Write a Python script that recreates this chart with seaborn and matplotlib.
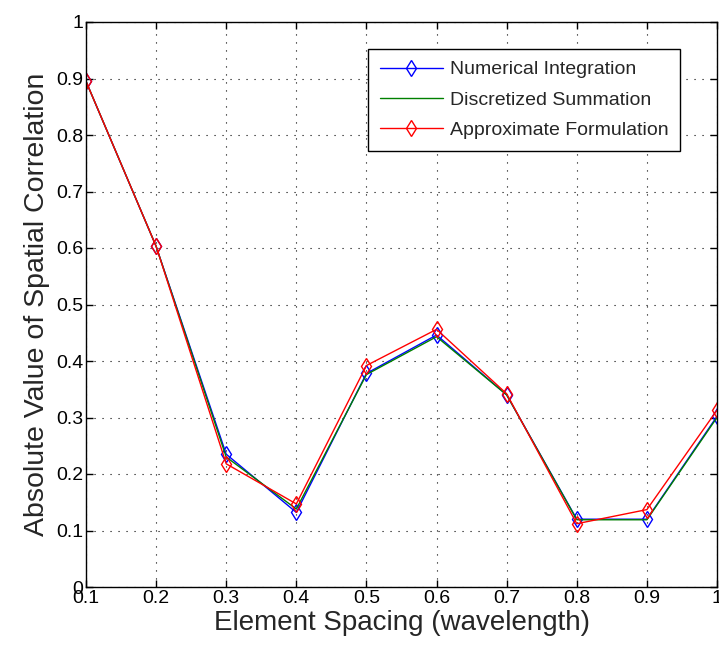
import numpy as np
import pandas as pd
import matplotlib
matplotlib.use("Agg")
import matplotlib.pyplot as plt
import seaborn as sns

# Element spacing in wavelengths
spacing = [0.1, 0.2, 0.3, 0.4, 0.5, 0.6, 0.7, 0.8, 0.9, 1.0]

# Absolute value of spatial correlation for each method
numerical_integration = [0.895, 0.603, 0.235, 0.132, 0.378, 0.446, 0.340, 0.120, 0.120, 0.302]
discretized_summation = [0.895, 0.603, 0.230, 0.138, 0.376, 0.443, 0.340, 0.119, 0.119, 0.300]
approximate_formulation = [0.895, 0.603, 0.218, 0.147, 0.392, 0.456, 0.342, 0.112, 0.137, 0.313]

x_tick_values = [0.1, 0.2, 0.3, 0.4, 0.5, 0.6, 0.7, 0.8, 0.9, 1.0]
x_tick_labels = ["0.1", "0.2", "0.3", "0.4", "0.5", "0.6", "0.7", "0.8", "0.9", "1"]
y_tick_values = [0, 0.1, 0.2, 0.3, 0.4, 0.5, 0.6, 0.7, 0.8, 0.9, 1.0]
y_tick_labels = ["0", "0.1", "0.2", "0.3", "0.4", "0.5", "0.6", "0.7", "0.8", "0.9", "1"]

sns.set_style("white")
plt.rcParams["font.family"] = ["Liberation Sans", "DejaVu Sans"]

fig = plt.figure(figsize=(7.19, 6.57), dpi=100)
ax = fig.add_axes([86 / 719, 1 - 587 / 657, (717 - 86) / 719, (587 - 22) / 657])

series = [
    ("Numerical Integration", numerical_integration, "#0000ff", "d"),
    ("Discretized Summation", discretized_summation, "#008000", None),
    ("Approximate Formulation", approximate_formulation, "#ff0000", "d"),
]
for name, values, color, marker in series:
    df = pd.DataFrame({"spacing": spacing, "corr": values})
    sns.lineplot(
        data=df, x="spacing", y="corr", ax=ax, color=color, linewidth=1.0,
        marker=marker if marker else "", markersize=8, markerfacecolor="none",
        markeredgecolor=color, markeredgewidth=1.0, label=name,
    )

ax.set_xlim(0.1, 1.0)
ax.set_ylim(0, 1)
ax.set_xticks(x_tick_values)
ax.set_yticks(y_tick_values)
tick_font = dict(family=["Liberation Sans Narrow", "Liberation Sans"], size=14)
ax.set_xticklabels(x_tick_labels, **tick_font)
ax.set_yticklabels(y_tick_labels, **tick_font)

ax.grid(True, color="black", linestyle=(0, (1, 6.2)), linewidth=0.8)
ax.tick_params(direction="in", length=5, width=1, top=True, right=True,
               bottom=True, left=True, colors="black", pad=2)
for s in ax.spines.values():
    s.set_color("black")
    s.set_linewidth(1.0)

ax.set_xlabel("Element Spacing (wavelength)", fontsize=20, labelpad=2)
ax.set_ylabel("Absolute Value of Spatial Correlation", fontsize=20.5, labelpad=4)

leg = ax.legend(
    loc="upper left", bbox_to_anchor=(0.447, 0.952), fontsize=14,
    frameon=True, fancybox=False, framealpha=1, edgecolor="black",
    handlelength=3.25, handletextpad=0.35, labelspacing=0.65,
    borderpad=0.6, borderaxespad=0,
)
leg.get_frame().set_linewidth(1.0)

fig.savefig("out.png", dpi=100)
